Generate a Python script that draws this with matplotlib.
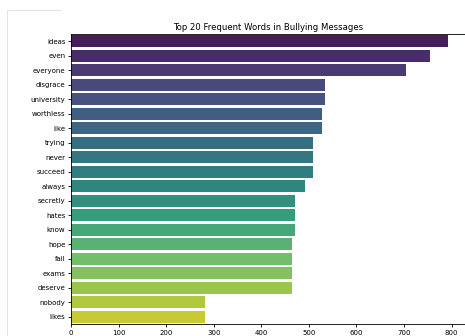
import matplotlib
matplotlib.use('Agg')
import matplotlib.pyplot as plt
import seaborn as sns
import pandas as pd

words = ['ideas', 'even', 'everyone', 'disgrace', 'university', 'worthless', 'like',
         'trying', 'never', 'succeed', 'always', 'secretly', 'hates', 'know', 'hope',
         'fail', 'exams', 'deserve', 'nobody', 'likes']
counts = [792, 754, 703, 533, 533, 528, 528, 509, 509, 509, 491, 470, 470, 470,
          465, 465, 465, 465, 282, 282]

df = pd.DataFrame({'word': words, 'count': counts})

fig = plt.figure(figsize=(4.65, 3.36), dpi=100)
ax = fig.add_axes([71 / 465, 1 - 324 / 336, 1.0 - 71 / 465 + 0.002, (324 - 34) / 336])

sns.barplot(data=df, x='count', y='word', hue='word', palette='viridis', legend=False, ax=ax)

ax.set_title('Top 20 Frequent Words in Bullying Messages', fontsize=6.1, pad=3)
ax.set_xlabel('')
ax.set_ylabel('')
ax.set_xlim(0, 830)
ax.set_xticks([0, 100, 200, 300, 400, 500, 600, 700, 800])
ax.tick_params(axis='both', labelsize=5.0, length=2.5, width=0.6, pad=1.5)
for s in ax.spines.values():
    s.set_linewidth(0.6)

# notebook cell frame
fig.add_artist(plt.Line2D([7 / 465, 7 / 465], [0, 1 - 10 / 336], color='#e4e4e4', lw=0.8))
fig.add_artist(plt.Line2D([7 / 465, 60 / 465], [1 - 10 / 336, 1 - 10 / 336], color='#e4e4e4', lw=0.8))

fig.savefig('out.png', dpi=100)
